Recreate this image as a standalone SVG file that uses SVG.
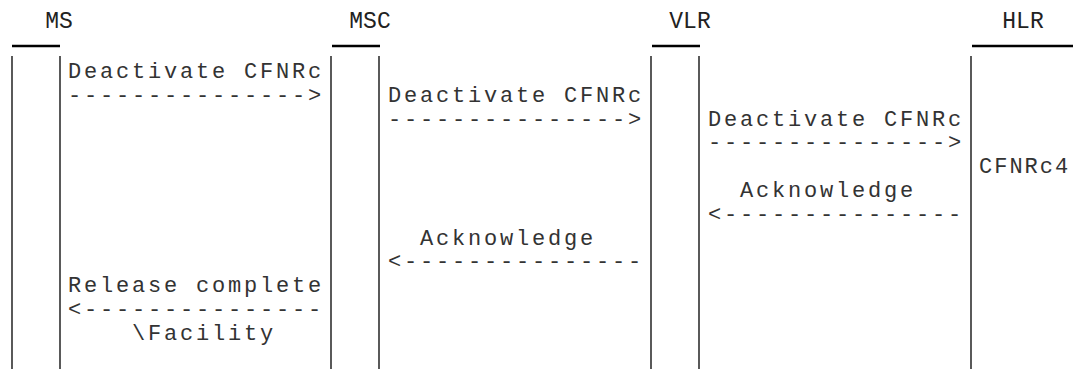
<svg xmlns="http://www.w3.org/2000/svg" width="1073" height="369" viewBox="0 0 1073 369">
<style>
.hd{font-family:"Liberation Mono","Courier New",monospace;font-size:23px;fill:#222;text-anchor:middle}
.t{font-family:"Liberation Mono","Courier New",monospace;font-size:22px;letter-spacing:2.8px;fill:#333;white-space:pre}
.ul{stroke:#000;stroke-width:2.5}
.ll{stroke:#000;stroke-width:1.3}
</style>
<rect width="1073" height="369" fill="#fff"/>
<g id="MS">
<text class="hd" x="59" y="28">MS</text>
<line class="ul" x1="12" y1="46" x2="60" y2="46"/>
<line class="ll" x1="12" y1="56" x2="12" y2="369"/>
<line class="ll" x1="60" y1="56" x2="60" y2="369"/>
</g>
<g id="MSC">
<text class="hd" x="370" y="28">MSC</text>
<line class="ul" x1="332" y1="46" x2="380" y2="46"/>
<line class="ll" x1="331" y1="56" x2="331" y2="369"/>
<line class="ll" x1="379" y1="56" x2="379" y2="369"/>
</g>
<g id="VLR">
<text class="hd" x="690" y="28">VLR</text>
<line class="ul" x1="652" y1="46" x2="700" y2="46"/>
<line class="ll" x1="651" y1="56" x2="651" y2="369"/>
<line class="ll" x1="699" y1="56" x2="699" y2="369"/>
</g>
<g id="HLR">
<text class="hd" x="1023" y="28">HLR</text>
<line class="ul" x1="972" y1="46" x2="1073" y2="46"/>
<line class="ll" x1="971" y1="56" x2="971" y2="369"/>
<text class="t" x="979" y="173.2" style="letter-spacing:2px">CFNRc4</text>
</g>
<g id="connectors">
<text class="t" x="68" y="78">Deactivate CFNRc<tspan x="68" dy="23.8">---------------&gt;</tspan></text>
<text class="t" x="388" y="101.8">Deactivate CFNRc<tspan x="388" dy="23.8">---------------&gt;</tspan></text>
<text class="t" x="708" y="125.6">Deactivate CFNRc<tspan x="708" dy="23.8">---------------&gt;</tspan></text>
<text class="t" x="740" y="197">Acknowledge<tspan x="708" dy="23.8">&lt;---------------</tspan></text>
<text class="t" x="420" y="244.6">Acknowledge<tspan x="388" dy="23.8">&lt;---------------</tspan></text>
<text class="t" x="68" y="292.2">Release complete<tspan x="68" dy="23.8">&lt;---------------</tspan><tspan x="132" dy="23.8">\Facility</tspan></text>
</g>
</svg>
